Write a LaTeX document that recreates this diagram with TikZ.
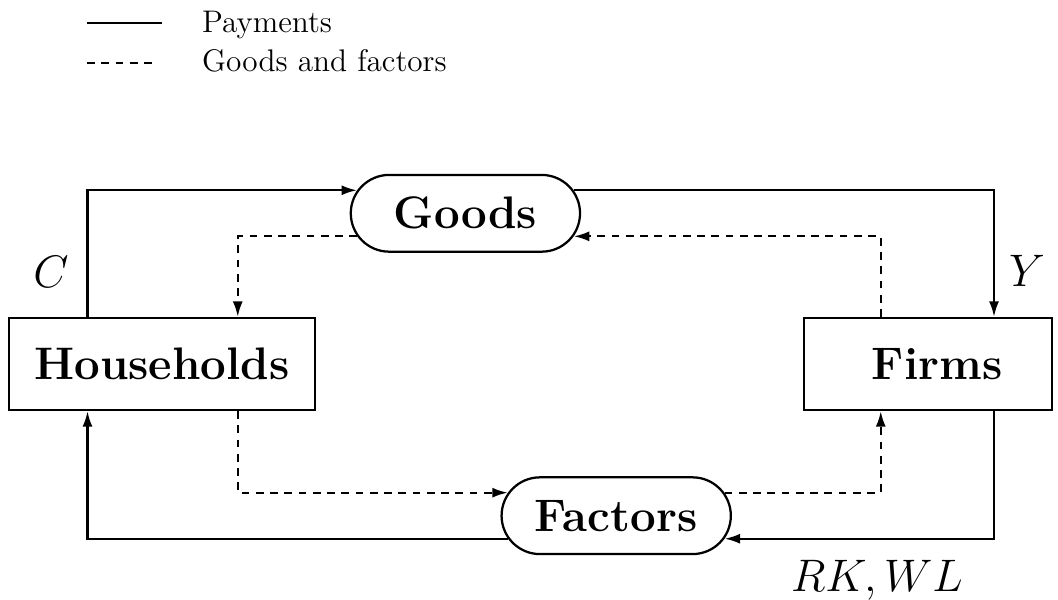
\RequirePackage{fix-cm}
\documentclass[tikz,border=0pt]{standalone}
\usetikzlibrary{arrows.meta,shapes.misc}
\tikzset{
  tip/.style={-{Latex[length=6.2pt,width=4pt]}},
  pay/.style={line width=0.9pt},
  gf/.style={line width=0.9pt,dash pattern=on 3.1pt off 2.6pt},
  agent/.style={draw,line width=0.9pt,rectangle,minimum height=36.8pt,inner sep=0pt,
    font=\fontsize{18.24}{22}\selectfont\bfseries},
  market/.style={draw,line width=0.9pt,rounded rectangle,minimum width=91.7pt,
    minimum height=30.7pt,inner sep=0pt,font=\fontsize{18.24}{22}\selectfont\bfseries},
  lbl/.style={inner sep=0pt,font=\fontsize{18.24}{22}\selectfont},
  leg/.style={inner sep=0pt,anchor=base west,font=\fontsize{12.5}{15}\selectfont}
}
\begin{document}
\begin{tikzpicture}[x=0.4pt,y=-0.4pt]
\useasboundingbox (0,0) rectangle (1058,599);

% legend
\coordinate (l1a) at (87,23.3);
\coordinate (l1b) at (162,23.3);
\coordinate (l2a) at (87,62.7);
\coordinate (l2b) at (155,62.7);
\draw[pay] (l1a) -- (l1b);
\draw[gf] (l2a) -- (l2b);
\node[leg] (legpay) at (201.7,32.7) {Payments};
\node[leg] (leggf) at (201.7,71.7) {Goods and factors};

% nodes
\node[agent,minimum width=122.4pt] (hh) at (162,364) {Households};
\node[agent,minimum width=99.2pt] (firms) at (928,364) {\hspace*{7.2pt}Firms};
\node[market] (goods) at (465.4,213.3) {Goods};
\node[market] (factors) at (616.2,515.7) {Factors};

% payments (solid)
\draw[pay,tip] ([xshift=-29.8pt]hh.north) |- (goods.168);
\draw[pay,tip] (goods.12) -| ([xshift=26.4pt]firms.north);
\draw[pay,tip] ([xshift=26.4pt]firms.south) |- (factors.348);
\draw[pay,tip] (factors.192) -| ([xshift=-29.8pt]hh.south);

% goods and factors (dashed)
\draw[gf,tip] ([xshift=-18.9pt]firms.north) |- (goods.348);
\draw[gf,tip] (goods.192) -| ([xshift=30.3pt]hh.north);
\draw[gf,tip] ([xshift=30.3pt]hh.south) |- (factors.168);
\draw[gf,tip] (factors.12) -| ([xshift=-18.9pt]firms.south);

% labels
\node[lbl] (lc) at (51,272) {$C$};
\node[lbl] (ly) at (1027,271) {$Y$};
\node[lbl,anchor=base] (lrk) at (877,591) {$RK,WL$};
\end{tikzpicture}
\end{document}
